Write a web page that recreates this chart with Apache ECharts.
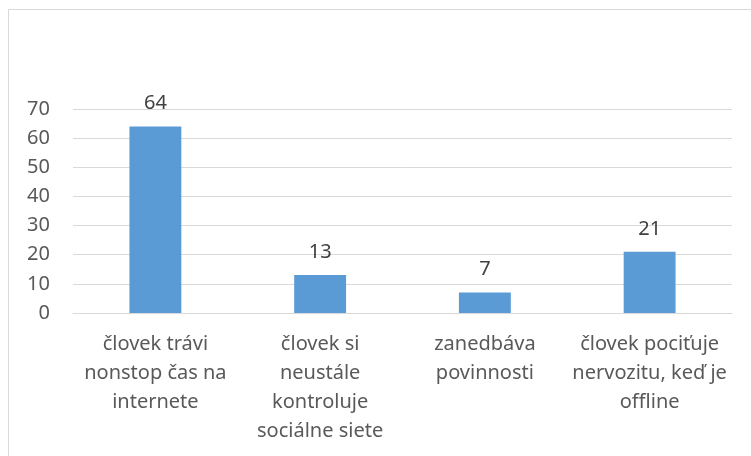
<!DOCTYPE html>
<html>
<head>
<meta charset="utf-8">
<script src="https://cdn.jsdelivr.net/npm/echarts@6/dist/echarts.min.js"></script>
<style>
  html, body { margin: 0; padding: 0; background: #fff; }
  #chart { width: 751px; height: 456px; }
</style>
</head>
<body>
<div id="chart"></div>
<script>
// kategórie (zalomenie riadkov ako v origináli)
const categories = [
  'človek trávi\nnonstop čas na\ninternete',
  'človek si\nneustále\nkontroluje\nsociálne siete',
  'zanedbáva\npovinnosti',
  'človek pociťuje\nnervozitu, keď je\noffline'
]
const values = [64, 13, 7, 21]
const yTicks = { min: 0, max: 70, interval: 10 }

const chart = echarts.init(document.getElementById('chart'))
const font = '"Noto Sans", sans-serif'
const option = {
  animation: false,
  textStyle: { fontFamily: font },
  graphic: [{
    type: 'rect',
    shape: { x: 8.5, y: 9.5, width: 760, height: 460 },
    style: { fill: 'none', stroke: '#d9d9d9', lineWidth: 1 },
    silent: true
  }],
  grid: {
    left: 73,
    right: 19,
    top: 109,
    bottom: 143
  },
  xAxis: {
    type: 'category',
    data: categories,
    axisLine: { lineStyle: { color: '#d9d9d9', width: 1 } },
    axisTick: { show: false },
    axisLabel: {
      color: '#595959',
      fontSize: 20,
      lineHeight: 29,
      margin: 17,
      interval: 0,
      fontFamily: font
    }
  },
  yAxis: {
    type: 'value',
    min: yTicks.min,
    max: yTicks.max,
    interval: yTicks.interval,
    axisLine: { show: false },
    axisTick: { show: false },
    splitLine: { lineStyle: { color: '#d9d9d9', width: 1 } },
    axisLabel: {
      color: '#595959',
      fontSize: 20,
      margin: 23,
      fontFamily: font
    }
  },
  series: [{
    type: 'bar',
    data: values,
    barWidth: '31.5%',
    itemStyle: { color: '#5b9bd5' },
    label: {
      show: true,
      position: 'top',
      distance: 13,
      color: '#404040',
      fontSize: 20,
      fontFamily: font
    }
  }]
}
chart.setOption(option)
</script>
</body>
</html>
